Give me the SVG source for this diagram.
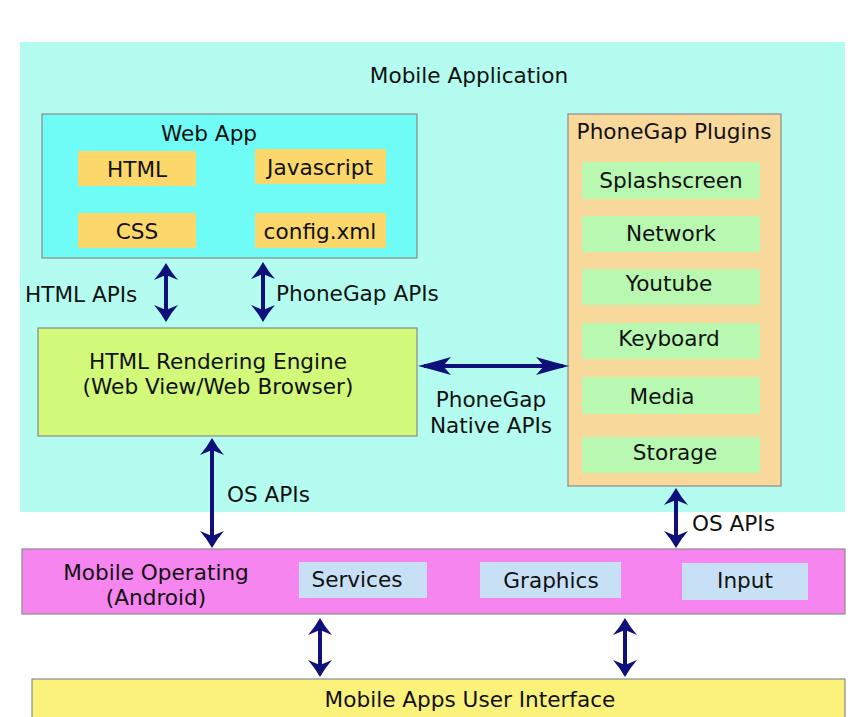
<svg xmlns="http://www.w3.org/2000/svg" width="858" height="717" viewBox="0 0 858 717">
<style>
text{font-family:"DejaVu Sans",Verdana,sans-serif;font-size:21.6px;fill:#111}
.c{text-anchor:middle}
.bx{stroke:#8a8a8a;stroke-width:1.2}
.av{stroke:#10107a;stroke-width:4;fill:none;marker-start:url(#ahv);marker-end:url(#ahv)}
.ah{stroke:#10107a;stroke-width:4;fill:none;marker-start:url(#ahh);marker-end:url(#ahh)}
</style>
<defs>
<marker id="ahv" markerUnits="userSpaceOnUse" orient="auto-start-reverse" overflow="visible" markerWidth="40" markerHeight="40" refX="0" refY="0">
<path d="M6,0 Q-3,-5 -11,-12 L-6,0 L-11,12 Q-3,5 6,0 Z" fill="#10107a"/>
</marker>
<marker id="ahh" markerUnits="userSpaceOnUse" orient="auto-start-reverse" overflow="visible" markerWidth="40" markerHeight="40" refX="0" refY="0">
<path d="M6,0 Q-10,-4 -27,-9 L-19,0 L-27,9 Q-10,4 6,0 Z" fill="#10107a"/>
</marker>
</defs>
<rect width="858" height="717" fill="#fff"/>
<g id="mobile-application">
<rect x="20" y="42" width="825" height="470" fill="#b3fcef"/>
<text class="c" x="469" y="83">Mobile Application</text>
</g>
<g id="web-app">
<rect class="bx" x="42" y="114" width="375" height="144" fill="#6ffbf6"/>
<text class="c" x="209" y="141">Web App</text>
</g>
<g id="html"><rect x="78" y="151" width="118" height="35" fill="#fcd86a"/><text class="c" x="137" y="177">HTML</text></g>
<g id="javascript"><rect x="255" y="149" width="131" height="35" fill="#fcd86a"/><text class="c" x="320" y="175">Javascript</text></g>
<g id="css"><rect x="78" y="213" width="118" height="35" fill="#fcd86a"/><text class="c" x="137" y="239">CSS</text></g>
<g id="config"><rect x="255" y="213" width="131" height="35" fill="#fcd86a"/><text class="c" x="320" y="239">config.xml</text></g>
<g id="plugins">
<rect class="bx" x="568" y="114" width="213" height="372" fill="#f9d99b"/>
<text class="c" x="674" y="139">PhoneGap Plugins</text>
</g>
<g id="splashscreen"><rect x="582" y="162" width="178" height="37" fill="#b8f8b1"/><text class="c" x="671" y="188">Splashscreen</text></g>
<g id="network"><rect x="582" y="216" width="178" height="36" fill="#b8f8b1"/><text class="c" x="671" y="241">Network</text></g>
<g id="youtube"><rect x="582" y="269" width="178" height="36" fill="#b8f8b1"/><text class="c" x="669" y="291">Youtube</text></g>
<g id="keyboard"><rect x="582" y="323" width="178" height="36" fill="#b8f8b1"/><text class="c" x="669" y="346">Keyboard</text></g>
<g id="media"><rect x="582" y="377" width="178" height="37" fill="#b8f8b1"/><text class="c" x="662" y="404">Media</text></g>
<g id="storage"><rect x="582" y="437" width="178" height="36" fill="#b8f8b1"/><text class="c" x="675" y="460">Storage</text></g>
<g id="rendering-engine">
<rect class="bx" x="38" y="328" width="379" height="108" fill="#d2f97a"/>
<text class="c" x="218" y="369">HTML Rendering Engine</text>
<text class="c" x="218" y="394">(Web View/Web Browser)</text>
</g>
<g id="mobile-os">
<rect class="bx" x="22" y="549" width="823" height="65" fill="#f785f0"/>
<text class="c" x="156" y="580">Mobile Operating</text>
<text class="c" x="156" y="605">(Android)</text>
</g>
<g id="services"><rect x="299" y="562" width="128" height="36" fill="#c8e0f5"/><text class="c" x="357" y="587">Services</text></g>
<g id="graphics"><rect x="480" y="562" width="141" height="36" fill="#c8e0f5"/><text class="c" x="551" y="588">Graphics</text></g>
<g id="input"><rect x="682" y="563" width="126" height="37" fill="#c8e0f5"/><text class="c" x="745" y="588">Input</text></g>
<g id="user-interface">
<rect class="bx" x="32" y="679" width="813" height="50" fill="#fbf27b"/>
<text class="c" x="470" y="707">Mobile Apps User Interface</text>
</g>
<g id="connectors">
<path class="av" d="M166,269 L166,316"/>
<path class="av" d="M263,268 L263,316"/>
<path class="ah" d="M424,366 L563,366"/>
<path class="av" d="M212,444 L212,542"/>
<path class="av" d="M676,494 L676,542"/>
<path class="av" d="M320,624 L320,671"/>
<path class="av" d="M625,624 L625,671"/>
<text x="25" y="302">HTML APIs</text>
<text x="276" y="301">PhoneGap APIs</text>
<text class="c" x="491" y="407">PhoneGap</text>
<text class="c" x="491" y="433">Native APIs</text>
<text x="227" y="502">OS APIs</text>
<text x="692" y="531">OS APIs</text>
</g>
</svg>
